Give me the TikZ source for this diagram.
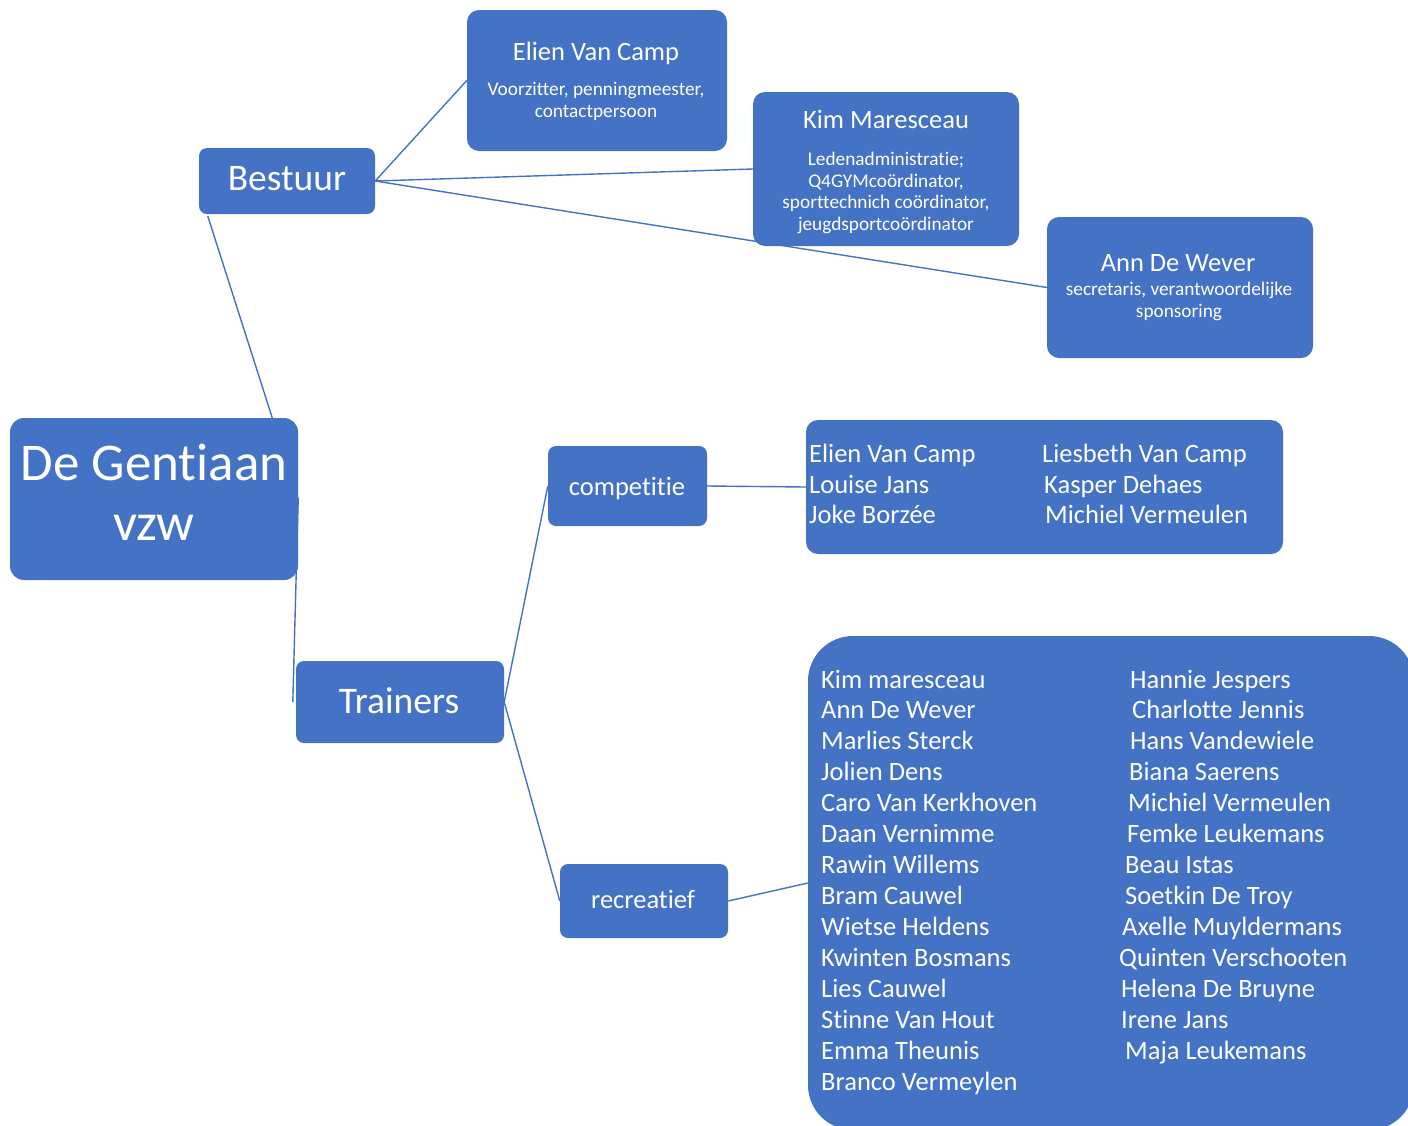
\documentclass[tikz,border=0pt]{standalone}
\usepackage{fontspec}
\setmainfont{Carlito}[RawFeature={-liga;-clig}]
\usetikzlibrary{calc}
\definecolor{boxblue}{HTML}{4472C4}
\definecolor{lineblue}{HTML}{4472C4}
\newcommand\fsHuge{\fontsize{53}{60}\selectfont}
\newcommand\fsBig{\fontsize{37.5}{42}\selectfont}
\newcommand\fsMid{\fontsize{26.5}{31}\selectfont}
\newcommand\fsSmall{\fontsize{19.3}{22}\selectfont}
\tikzset{
  box/.style={fill=boxblue, draw=none, rounded corners=8pt, inner sep=0pt},
  txt/.style={text=white, inner sep=0pt, anchor=base},
  ltxt/.style={text=white, inner sep=0pt, anchor=base west, font=\fsMid},
  link/.style={draw=lineblue, line width=1.4pt},
}
\begin{document}
\begin{tikzpicture}[x=1pt,y=-1pt]
\useasboundingbox (0,0) rectangle (1408,1125);
\clip (0,0) rectangle (1408,1125);
\fill[white] (0,0) rectangle (1408,1125);

% boxes
\node[box, minimum width=176, minimum height=66] (bestuur) at (287,181) {};
\node[box, rounded corners=12pt, minimum width=260, minimum height=141] (elien) at (597,80.5) {};
\node[box, rounded corners=12pt, minimum width=266, minimum height=154] (kim) at (886,169) {};
\node[box, rounded corners=12pt, minimum width=266, minimum height=141] (ann) at (1180,287.5) {};
\node[box, rounded corners=14pt, minimum width=288, minimum height=162] (gent) at (154,499) {};
\node[box, minimum width=208, minimum height=82] (trainers) at (400,702) {};
\node[box, minimum width=159, minimum height=80] (competitie) at (627.5,486) {};
\node[box, rounded corners=12pt, minimum width=477, minimum height=134] (complist) at (1044.5,487) {};
\node[box, minimum width=168, minimum height=74] (recreatief) at (644,901) {};
\node[box, rounded corners=45pt, minimum width=606, minimum height=494] (reclist) at (1111,883) {};

% connectors
\draw[link] (bestuur.east) -- (elien.west);
\draw[link] (bestuur.east) -- (kim.west);
\draw[link] (bestuur.east) -- (ann.west);
\draw[link] ($(bestuur.south west)+(9,2)$) -- (gent.east);
\draw[link] (gent.east) -- ($(trainers.west)+(-3,0)$);
\draw[link] (trainers.east) -- (competitie.west);
\draw[link] (trainers.east) -- (recreatief.west);
\draw[link] (competitie.east) -- (complist.west);
\draw[link] (recreatief.east) -- (reclist.west);

% single texts
\node[txt, font=\fsBig] (tbestuur) at (287,190) {Bestuur};
\node[txt, font=\fsBig] (ttrainers) at (399,713) {Trainers};
\node[txt, font=\fsMid] (tcomp) at (627,495) {competitie};
\node[txt, font=\fsMid] (trecr) at (643,908) {recreatief};
\node[txt, font=\fsHuge] (tgent1) at (154,480) {De Gentiaan};
\node[txt, font=\fsHuge] (tgent2) at (154,540) {vzw};

% Elien
\node[txt, font=\fsMid] (te1) at (596,60) {Elien Van Camp};
\node[txt, font=\fsSmall] (te2) at (596,95) {Voorzitter, penningmeester,};
\node[txt, font=\fsSmall] (te3) at (596,117) {contactpersoon};
% Kim
\node[txt, font=\fsMid] (tk1) at (886,128) {Kim Maresceau};
\node[txt, font=\fsSmall] (tk2) at (886,165) {Ledenadministratie;};
\node[txt, font=\fsSmall] (tk3) at (886,187) {Q4GYMcoördinator,};
\node[txt, font=\fsSmall] (tk4) at (886,208) {sporttechnich coördinator,};
\node[txt, font=\fsSmall] (tk5) at (886,230) {jeugdsportcoördinator};
% Ann
\node[txt, font=\fsMid] (ta1) at (1178,271) {Ann De Wever};
\node[txt, font=\fsSmall] (ta2) at (1179,295) {secretaris, verantwoordelijke};
\node[txt, font=\fsSmall] (ta3) at (1179,317) {sponsoring};

% competitie list
\node[ltxt] (c1) at (809,462) {Elien Van Camp};
\node[ltxt] (c2) at (809,493) {Louise Jans};
\node[ltxt] (c3) at (809,523) {Joke Borzée};
\node[ltxt] (c4) at (1042,462) {Liesbeth Van Camp};
\node[ltxt] (c5) at (1044,493) {Kasper Dehaes};
\node[ltxt] (c6) at (1045,523) {Michiel Vermeulen};

% recreatief list, left column
\foreach \n [count=\k from 0] in {Kim maresceau, Ann De Wever, Marlies Sterck, Jolien Dens, Caro Van Kerkhoven, Daan Vernimme, Rawin Willems, Bram Cauwel, Wietse Heldens, Kwinten Bosmans, Lies Cauwel, Stinne Van Hout, Emma Theunis, Branco Vermeylen}
  \node[ltxt] (rl\k) at (821,688+30.95*\k) {\n};
% right column
\foreach \n/\xx [count=\k from 0] in {Hannie Jespers/1130, Charlotte Jennis/1132, Hans Vandewiele/1130, Biana Saerens/1129, Michiel Vermeulen/1128, Femke Leukemans/1127, Beau Istas/1125, Soetkin De Troy/1125, Axelle Muyldermans/1122, Quinten Verschooten/1119, Helena De Bruyne/1121, Irene Jans/1121, Maja Leukemans/1125}
  \node[ltxt] (rr\k) at (\xx,688+30.95*\k) {\n};
\end{tikzpicture}
\end{document}
